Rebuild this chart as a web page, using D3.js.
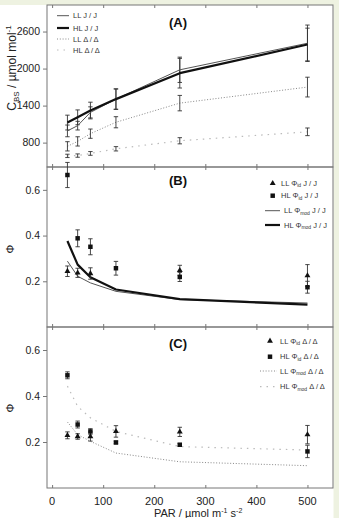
<!DOCTYPE html>
<html><head><meta charset="utf-8">
<script src="https://cdn.jsdelivr.net/npm/d3@7"></script>
<style>
html,body{margin:0;padding:0;background:#eef2e1;}
svg{display:block;font-family:"Liberation Sans",Arial,sans-serif;}
</style></head>
<body>
<svg id="c" width="339" height="518"></svg>
<script>
// ---------- data ----------
const par = [30, 50, 75, 125, 250, 500];
const xTicks = [0, 100, 200, 300, 400, 500];
const ticksA = [800, 1400, 2000, 2600];
const ticksPhi = [0.2, 0.4, 0.6];

// Panel A: C_BS
const cbsLLJ = [990, 1075, 1290, 1505, 1980, 2410];
const cbsLLJErr = [95, 70, 90, 165, 205, 295];
const cbsHLJ = [1125, 1210, 1320, 1505, 1925, 2390];
const cbsHLJErr = [120, 120, 135, 165, 240, 265];
const cbsLLD = [740, 820, 945, 1130, 1440, 1700];
const cbsLLDErr = [75, 75, 75, 90, 125, 160];
const cbsHLD = [585, 590, 625, 700, 830, 975];
const cbsHLDErr = [27, 27, 30, 35, 50, 62];

// Panel B: Phi J/J
const phiIdLLJ = [0.244, 0.237, 0.234, null, 0.248, 0.225];
const phiIdLLJErr = [0.023, 0.02, 0.025, null, 0.022, 0.048];
const phiIdHLJ = [0.665, 0.388, 0.351, 0.257, 0.219, 0.174];
const phiIdHLJErr = [0.055, 0.037, 0.035, 0.03, 0.02, 0.026];
const phiModLLJ = [0.288, 0.222, 0.193, 0.156, 0.12, 0.105];
const phiModHLJ = [0.376, 0.273, 0.218, 0.164, 0.122, 0.098];

// Panel C: Phi Δ/Δ
const phiIdLLD = [0.229, 0.224, 0.224, 0.246, 0.244, 0.232];
const phiIdLLDErr = [0.015, 0.012, 0.02, 0.025, 0.02, 0.04];
const phiIdHLD = [0.49, 0.276, 0.246, 0.198, 0.188, 0.159];
const phiIdHLDErr = [0.015, 0.015, 0.012, 0.006, 0.006, 0.027];
const phiModLLD = [0.287, 0.232, 0.203, 0.152, 0.114, 0.097];
const phiModHLD = [0.443, 0.355, 0.305, 0.246, 0.18, 0.165];

// ---------- layout ----------
const svg = d3.select("#c");
svg.append("rect").attr("x",0).attr("y",5).attr("width",333.5).attr("height",513).attr("fill","#fff");

const L = 47, R = 333;
const x = d3.scaleLinear().domain([-10, 550]).range([L, R]);
const yA = d3.scaleLinear().domain([405, 3030]).range([167, 5]);
const yB = d3.scaleLinear().domain([0, 0.7]).range([327, 167]);
const yC = d3.scaleLinear().domain([0, 0.7]).range([488, 327]);

const frame = "#777";
const tickFont = 10.5;

function panel(y, ticks, fmt) {
  const [b, t] = y.range();
  const g = svg.append("g");
  g.append("rect").attr("x", L).attr("y", t).attr("width", R - L).attr("height", b - t)
    .attr("fill", "none").attr("stroke", frame).attr("stroke-width", 1);
  const ya = g.append("g").attr("transform", `translate(${L},0)`)
    .call(d3.axisLeft(y).tickValues(ticks).tickSize(4).tickPadding(3).tickFormat(fmt));
  ya.select(".domain").remove();
  ya.selectAll("line").attr("stroke", frame);
  ya.selectAll("text").attr("font-size", tickFont).attr("fill", "#222")
    .attr("font-family", "Liberation Sans, Arial, sans-serif");
  const xb = g.append("g").attr("transform", `translate(0,${b})`)
    .call(d3.axisTop(x).tickValues(xTicks).tickSize(3).tickFormat(""));
  xb.select(".domain").remove();
  xb.selectAll("line").attr("stroke", frame);
  const xt = g.append("g").attr("transform", `translate(0,${t})`)
    .call(d3.axisBottom(x).tickValues(xTicks).tickSize(3).tickFormat(""));
  xt.select(".domain").remove();
  xt.selectAll("line").attr("stroke", frame);
}
panel(yA, ticksA, d3.format("d"));
panel(yB, ticksPhi, d3.format(".1f"));
panel(yC, ticksPhi, d3.format(".1f"));

// x tick labels
svg.append("g").selectAll("text").data(xTicks).join("text")
  .attr("x", d => x(d)).attr("y", 505).attr("text-anchor", "middle")
  .attr("font-size", 11).attr("fill", "#222").text(d => d);

// x label
const xl = svg.append("text").attr("x", 154).attr("y", 517).attr("font-size", 11).attr("fill", "#222");
xl.append("tspan").text("PAR / µmol m");
xl.append("tspan").attr("font-size", 7).attr("dy", -4).text("-1");
xl.append("tspan").attr("dy", 4).text(" s");
xl.append("tspan").attr("font-size", 7).attr("dy", -4).text("-2");

// y labels
const yl = svg.append("text").attr("transform", "translate(16,68) rotate(-90)")
  .attr("text-anchor", "middle").attr("font-size", 12).attr("fill", "#222");
yl.append("tspan").text("C");
yl.append("tspan").attr("font-size", 8).attr("dy", 3).text("BS");
yl.append("tspan").attr("dy", -3).text(" / µmol mol");
yl.append("tspan").attr("font-size", 8).attr("dy", -5).text("-1");
[[yB, 249], [yC, 408]].forEach(([s, cy]) => {
  svg.append("text").attr("transform", `translate(14,${cy}) rotate(-90)`)
    .attr("text-anchor", "middle").attr("font-size", 11).attr("fill", "#222").text("Φ");
});

// panel letters
[["(A)", 27], ["(B)", 185], ["(C)", 348]].forEach(([t, yy]) => {
  svg.append("text").attr("x", 169).attr("y", yy).attr("font-size", 13)
    .attr("font-weight", "bold").attr("fill", "#111").text(t);
});

// ---------- helpers ----------
function drawLine(y, vals, style) {
  const pts = par.map((p, i) => [p, vals[i]]).filter(d => d[1] != null);
  svg.append("path").datum(pts)
    .attr("d", d3.line().x(d => x(d[0])).y(d => y(d[1])))
    .attr("fill", "none").attr("stroke", style.color).attr("stroke-width", style.width)
    .attr("stroke-dasharray", style.dash || null).attr("stroke-linejoin", "round");
}
function drawErr(y, vals, errs, color) {
  const pts = par.map((p, i) => [p, vals[i], errs[i]]).filter(d => d[1] != null);
  const g = svg.append("g").attr("stroke", color || "#333").attr("stroke-width", 0.9).attr("fill", "none");
  pts.forEach(([p, v, e]) => {
    const cx = x(p), y1 = y(v + e), y2 = y(v - e);
    g.append("line").attr("x1", cx).attr("x2", cx).attr("y1", y1).attr("y2", y2);
    g.append("line").attr("x1", cx - 2.2).attr("x2", cx + 2.2).attr("y1", y1).attr("y2", y1);
    g.append("line").attr("x1", cx - 2.2).attr("x2", cx + 2.2).attr("y1", y2).attr("y2", y2);
  });
}
const triSym = d3.symbol().type(d3.symbolTriangle).size(15);
const sqSym = d3.symbol().type(d3.symbolSquare).size(20);
function drawPts(y, vals, sym) {
  const pts = par.map((p, i) => [p, vals[i]]).filter(d => d[1] != null);
  svg.append("g").selectAll("path").data(pts).join("path")
    .attr("transform", d => `translate(${x(d[0])},${y(d[1])})`)
    .attr("d", sym()).attr("fill", "#111");
}

const sThin = {color: "#555", width: 1};
const sThick = {color: "#111", width: 2.2};
const sDotLL = {color: "#888", width: 1, dash: "1,1.8"};
const sDotHL = {color: "#bbb", width: 1.2, dash: "1.5,5"};

// ---------- Panel A ----------
drawLine(yA, cbsHLD, sDotHL);
drawLine(yA, cbsLLD, sDotLL);
drawErr(yA, cbsHLD, cbsHLDErr);
drawErr(yA, cbsLLD, cbsLLDErr);
drawErr(yA, cbsLLJ, cbsLLJErr);
drawErr(yA, cbsHLJ, cbsHLJErr);
drawLine(yA, cbsLLJ, sThin);
drawLine(yA, cbsHLJ, sThick);

// ---------- Panel B ----------
drawLine(yB, phiModLLJ, sThin);
drawLine(yB, phiModHLJ, sThick);
drawErr(yB, phiIdLLJ, phiIdLLJErr);
drawErr(yB, phiIdHLJ, phiIdHLJErr);
drawPts(yB, phiIdLLJ, () => triSym());
drawPts(yB, phiIdHLJ, () => sqSym());

// ---------- Panel C ----------
drawLine(yC, phiModLLD, sDotLL);
drawLine(yC, phiModHLD, sDotHL);
drawErr(yC, phiIdLLD, phiIdLLDErr);
drawErr(yC, phiIdHLD, phiIdHLDErr);
drawPts(yC, phiIdLLD, () => triSym());
drawPts(yC, phiIdHLD, () => sqSym());

// ---------- Legends ----------
const lf = 7.5;
// parts: [prefix, subscript, suffix]
function legText(xx, yy, pre, sub, post) {
  const t = svg.append("text").attr("x", xx).attr("y", yy + 2.6).attr("font-size", lf).attr("fill", "#333");
  t.append("tspan").text(pre);
  if (sub) {
    t.append("tspan").attr("font-size", 5).attr("dy", 1.5).text(sub);
    t.append("tspan").attr("dy", -1.5).text(post);
  }
}
function legLine(x1, x2, yy, style) {
  svg.append("line").attr("x1", x1).attr("x2", x2).attr("y1", yy).attr("y2", yy)
    .attr("stroke", style.color).attr("stroke-width", style.width)
    .attr("stroke-dasharray", style.dash || null);
}
function legSym(xx, yy, sym) {
  svg.append("path").attr("transform", `translate(${xx},${yy})`).attr("d", sym).attr("fill", "#111");
}
// A
[[15.7, sThin, "LL J / J"], [28, sThick, "HL J / J"], [39, sDotLL, "LL Δ / Δ"], [50, sDotHL, "HL Δ / Δ"]]
  .forEach(([yy, st, t]) => { legLine(57, 69, yy, st); legText(73, yy, t); });

// B
legSym(272.7, 183.3, triSym()); legText(281, 183.3, "LL Φ", "id", " J / J");
legSym(272.7, 195.7, sqSym()); legText(281, 195.7, "HL Φ", "id", " J / J");
legLine(265, 280, 210.7, sThin); legText(284, 210.7, "LL Φ", "mod", " J / J");
legLine(265, 280, 225, sThick); legText(284, 225, "HL Φ", "mod", " J / J");

// C
legSym(270, 341, triSym()); legText(280, 341, "LL Φ", "id", " Δ / Δ");
legSym(270, 356.7, sqSym()); legText(280, 356.7, "HL Φ", "id", " Δ / Δ");
legLine(260, 277, 371, sDotLL); legText(280, 371, "LL Φ", "mod", " Δ / Δ");
legLine(260, 277, 386.7, sDotHL); legText(280, 386.7, "HL Φ", "mod", " Δ / Δ");
</script>
</body></html>
